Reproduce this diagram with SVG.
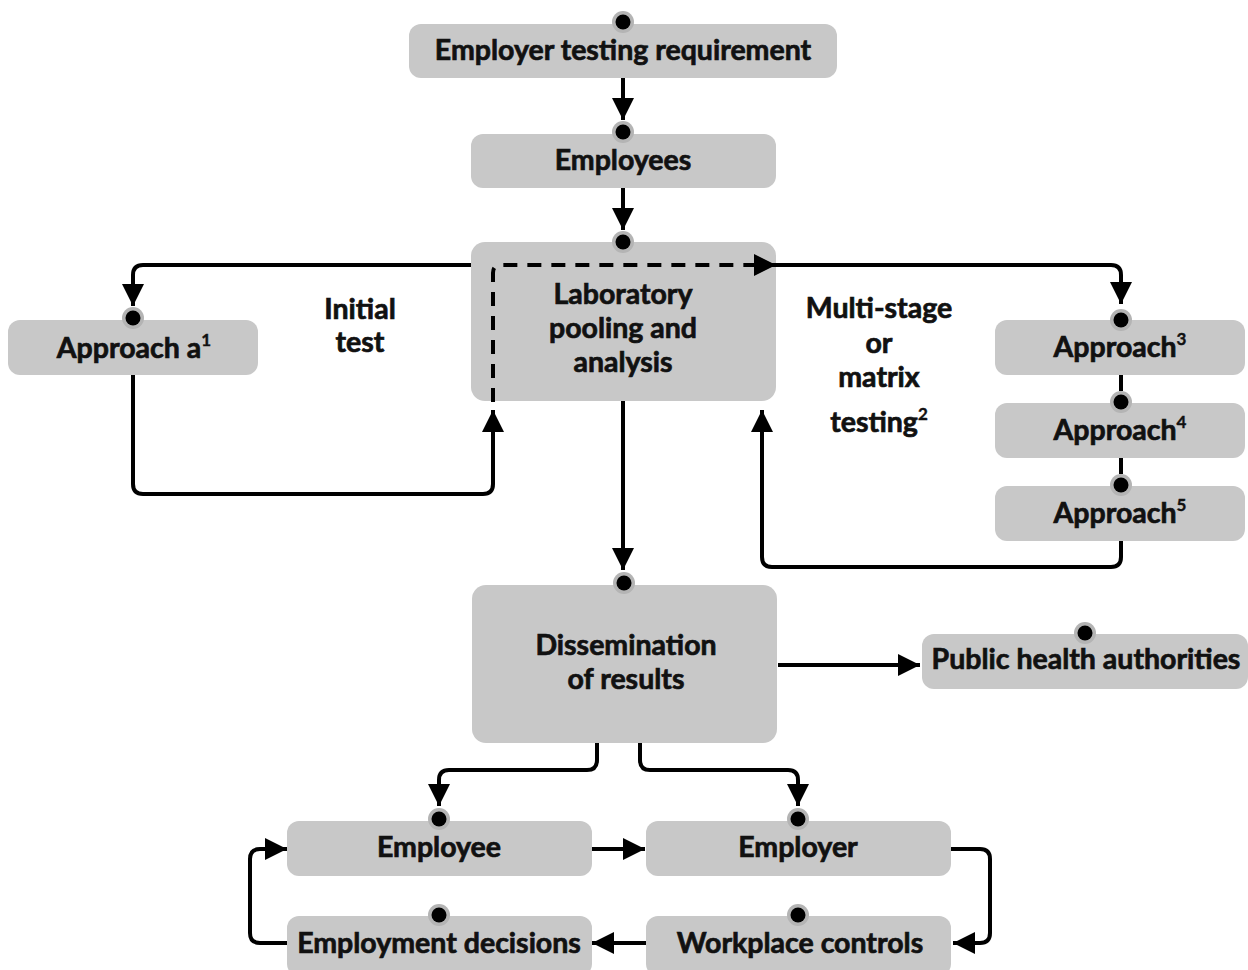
<svg xmlns="http://www.w3.org/2000/svg" width="1248" height="970" viewBox="0 0 1248 970">
<style>
.box{fill:#c8c8c8;}
.halo{fill:#b4b4b4;}
.dot{fill:#000;}
.t{font-family:Lato,"Liberation Sans",sans-serif;font-weight:bold;font-size:28.5px;fill:#111;stroke:#111;stroke-width:0.7;text-anchor:middle;}
.sup{font-size:17px;stroke-width:0.4;}
.c{fill:none;stroke:#000;stroke-width:4;stroke-linejoin:round;}
.a{marker-end:url(#ah);}
.d{stroke-dasharray:14 10;}
</style>
<defs>
<marker id="ah" markerUnits="userSpaceOnUse" markerWidth="22" markerHeight="22" viewBox="0 0 20 20" refX="20" refY="10" orient="auto">
<path d="M0,0 L20,10 L0,20 z" fill="#000"/>
</marker>
</defs>
<rect width="1248" height="970" fill="#fff"/>
<g id="n1"><rect class="box" x="409" y="24" width="428" height="54" rx="12"/><circle class="halo" cx="623" cy="22" r="11"/><circle class="dot" cx="623" cy="22" r="7.5"/><text class="t" x="623" y="60">Employer testing requirement</text></g>
<g id="n2"><rect class="box" x="471" y="134" width="305" height="54" rx="12"/><circle class="halo" cx="623" cy="132" r="11"/><circle class="dot" cx="623" cy="132" r="7.5"/><text class="t" x="623" y="170">Employees</text></g>
<g id="n3"><rect class="box" x="471" y="242" width="305" height="159" rx="14"/><circle class="halo" cx="623" cy="242" r="11"/><circle class="dot" cx="623" cy="242" r="7.5"/><text class="t" x="623" y="304">Laboratory</text><text class="t" x="623" y="338">pooling and</text><text class="t" x="623" y="372">analysis</text></g>
<g id="n4"><rect class="box" x="8" y="320" width="250" height="55" rx="12"/><circle class="halo" cx="133" cy="318" r="11"/><circle class="dot" cx="133" cy="318" r="7.5"/><text class="t" x="134" y="358">Approach a<tspan class="sup" dy="-12">1</tspan></text></g>
<g id="l1"><text class="t" x="360" y="319">Initial</text><text class="t" x="360" y="352">test</text></g>
<g id="l2"><text class="t" x="879" y="318">Multi-stage</text><text class="t" x="879" y="353">or</text><text class="t" x="879" y="387">matrix</text><text class="t" x="879" y="432">testing<tspan class="sup" dy="-12">2</tspan></text></g>
<g id="n5"><rect class="box" x="995" y="320" width="250" height="55" rx="12"/><circle class="halo" cx="1121" cy="320" r="11"/><circle class="dot" cx="1121" cy="320" r="7.5"/><text class="t" x="1120" y="357">Approach<tspan class="sup" dy="-12">3</tspan></text></g>
<g id="n6"><rect class="box" x="995" y="403" width="250" height="55" rx="12"/><circle class="halo" cx="1121" cy="402" r="11"/><circle class="dot" cx="1121" cy="402" r="7.5"/><text class="t" x="1120" y="440">Approach<tspan class="sup" dy="-12">4</tspan></text></g>
<g id="n7"><rect class="box" x="995" y="486" width="250" height="55" rx="12"/><circle class="halo" cx="1121" cy="485" r="11"/><circle class="dot" cx="1121" cy="485" r="7.5"/><text class="t" x="1120" y="523">Approach<tspan class="sup" dy="-12">5</tspan></text></g>
<g id="n8"><rect class="box" x="472" y="585" width="305" height="158" rx="14"/><circle class="halo" cx="624" cy="583" r="11"/><circle class="dot" cx="624" cy="583" r="7.5"/><text class="t" x="626" y="655">Dissemination</text><text class="t" x="626" y="689">of results</text></g>
<g id="n9"><rect class="box" x="922" y="634" width="326" height="55" rx="12"/><circle class="halo" cx="1085" cy="633" r="11"/><circle class="dot" cx="1085" cy="633" r="7.5"/><text class="t" x="1086" y="669">Public health authorities</text></g>
<g id="n10"><rect class="box" x="287" y="821" width="305" height="55" rx="12"/><circle class="halo" cx="439" cy="819" r="11"/><circle class="dot" cx="439" cy="819" r="7.5"/><text class="t" x="439" y="857">Employee</text></g>
<g id="n11"><rect class="box" x="646" y="821" width="305" height="55" rx="12"/><circle class="halo" cx="798" cy="819" r="11"/><circle class="dot" cx="798" cy="819" r="7.5"/><text class="t" x="798" y="857">Employer</text></g>
<g id="n12"><rect class="box" x="287" y="916" width="305" height="60" rx="12"/><circle class="halo" cx="439" cy="915" r="11"/><circle class="dot" cx="439" cy="915" r="7.5"/><text class="t" x="439" y="953">Employment decisions</text></g>
<g id="n13"><rect class="box" x="646" y="916" width="305" height="60" rx="12"/><circle class="halo" cx="798" cy="915" r="11"/><circle class="dot" cx="798" cy="915" r="7.5"/><text class="t" x="800" y="953">Workplace controls</text></g>
<g id="connectors">
<path class="c a" d="M623,78 V120"/>
<path class="c a" d="M623,188 V230"/>
<path class="c a" d="M471,265 H143 Q133,265 133,275 V306"/>
<path class="c a" d="M133,375 V484 Q133,494 143,494 H483 Q493,494 493,484 V410"/>
<path class="c d a" d="M493,402 V273 Q493,265 501,265 H776"/>
<path class="c a" d="M776,265 H1111 Q1121,265 1121,275 V304"/>
<path class="c" d="M1121,375 V391"/>
<path class="c" d="M1121,458 V474"/>
<path class="c a" d="M1121,541 V557 Q1121,567 1111,567 H772 Q762,567 762,557 V410"/>
<path class="c a" d="M623,401 V570"/>
<path class="c a" d="M778,665 H920"/>
<path class="c a" d="M597,743 V760 Q597,770 587,770 H449 Q439,770 439,780 V806"/>
<path class="c a" d="M640,743 V760 Q640,770 650,770 H788 Q798,770 798,780 V806"/>
<path class="c a" d="M592,849 H645"/>
<path class="c a" d="M951,849 H980 Q990,849 990,859 V933 Q990,943 980,943 H953"/>
<path class="c a" d="M646,943 H592"/>
<path class="c a" d="M287,943 H260 Q250,943 250,933 V859 Q250,849 260,849 H287"/>
</g>
</svg>
